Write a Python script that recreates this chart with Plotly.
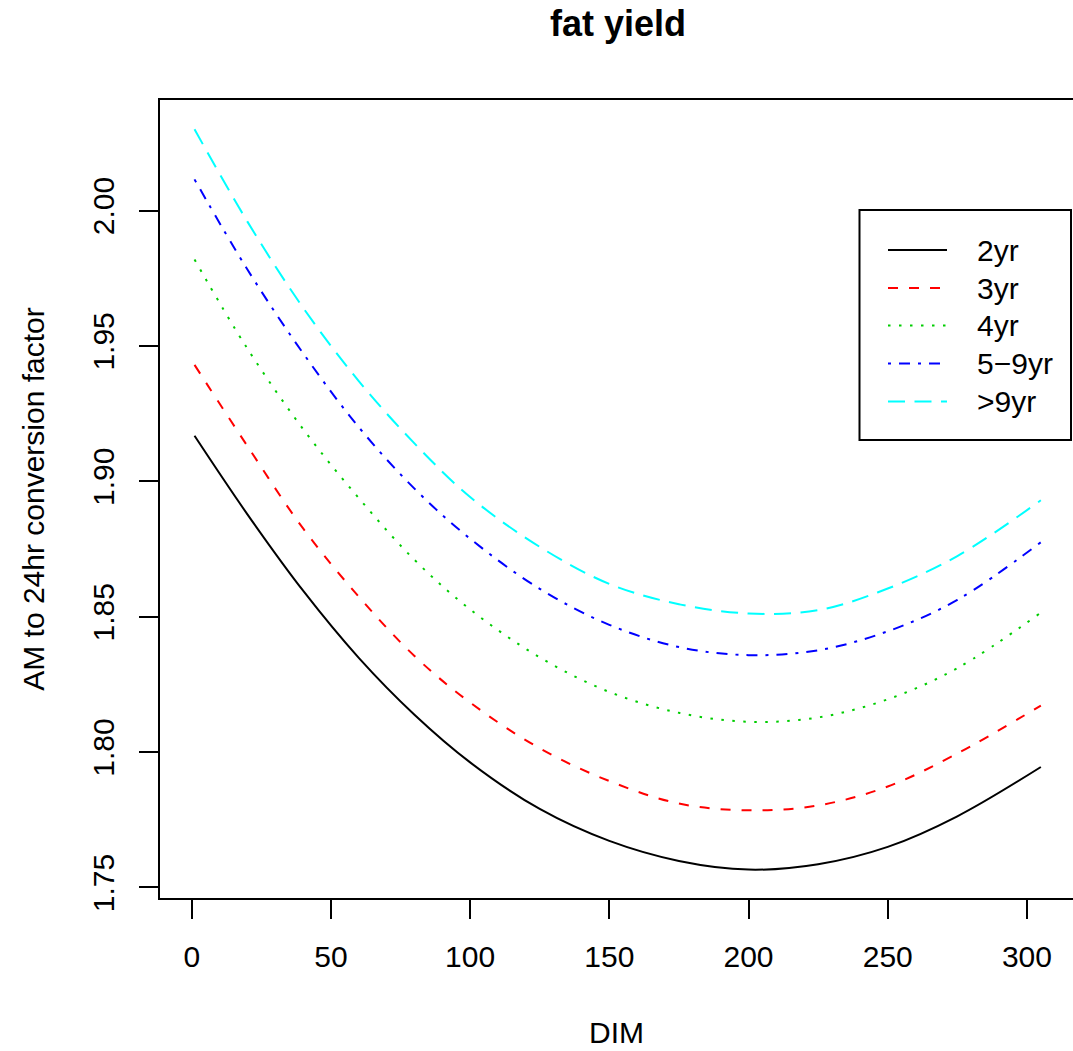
import plotly.graph_objects as go

# Days in milk at which the conversion factors are tabulated
dim = [1, 20, 40, 60, 80, 100, 125, 150, 175, 200, 225, 250, 275, 305]

# AM to 24hr conversion factor for fat yield, by age group
fac_2yr = [1.9168, 1.8878, 1.8596, 1.8348, 1.8138, 1.7962, 1.7790, 1.7672,
           1.7598, 1.7566, 1.7586, 1.7650, 1.7763, 1.7945]
fac_3yr = [1.9430, 1.9130, 1.8826, 1.8574, 1.8355, 1.8183, 1.8014, 1.7893,
           1.7810, 1.7785, 1.7803, 1.7873, 1.7995, 1.8172]
fac_4yr = [1.9819, 1.9490, 1.9193, 1.8938, 1.8710, 1.8527, 1.8350, 1.8222,
           1.8145, 1.8112, 1.8128, 1.8195, 1.8310, 1.8515]
fac_5_9yr = [2.0115, 1.9782, 1.9473, 1.9200, 1.8973, 1.8788, 1.8603, 1.8470,
             1.8388, 1.8358, 1.8376, 1.8446, 1.8562, 1.8775]
fac_9plus = [2.0300, 1.9959, 1.9641, 1.9370, 1.9140, 1.8942, 1.8758, 1.8621,
             1.8546, 1.8512, 1.8524, 1.8604, 1.8724, 1.8930]

labels = ["2yr", "3yr", "4yr", "5\u22129yr", ">9yr"]
series = [fac_2yr, fac_3yr, fac_4yr, fac_5_9yr, fac_9plus]
colors = ["#000000", "#FF0000", "#00CD00", "#0000FF", "#00FFFF"]
dashes = ["solid", "10px,11px", "2.5px,8.5px", "3px,8px,11px,8px", "17px,9.5px"]

x_ticks = [0, 50, 100, 150, 200, 250, 300]
y_ticks = [1.75, 1.80, 1.85, 1.90, 1.95, 2.00]

FONT = "Liberation Sans, Arial, Helvetica, sans-serif"
W, H = 1073, 1051
ML, MR, MT, MB = 160, 0, 100, 153
PW, PH = W - ML - MR, H - MT - MB


def px(xp):
    return (xp - ML) / PW


def py(yp):
    return (MT + PH - yp) / PH


fig = go.Figure()
for name, vals, col, dsh in zip(labels, series, colors, dashes):
    fig.add_trace(go.Scatter(
        x=dim, y=vals, name=name, mode="lines",
        line=dict(color=col, width=2, dash=dsh, shape="spline", smoothing=1.0),
        showlegend=False,
    ))

# Legend box drawn in the upper right of the plotting region
shapes = [dict(type="rect", xref="paper", yref="paper",
               x0=px(859.5), x1=px(1071), y0=py(440), y1=py(210),
               line=dict(color="black", width=2), fillcolor="white", layer="above")]
annotations = []
entry_y = [250, 288, 325.5, 363.5, 401.5]
for name, col, dsh, ey in zip(labels, colors, dashes, entry_y):
    shapes.append(dict(type="line", xref="paper", yref="paper",
                       x0=px(888), x1=px(947), y0=py(ey), y1=py(ey),
                       line=dict(color=col, width=2, dash=dsh), layer="above"))
    annotations.append(dict(xref="paper", yref="paper", x=px(975), y=py(ey),
                            xanchor="left", yanchor="middle", showarrow=False,
                            text=name, font=dict(family=FONT, size=30, color="black")))

fig.update_layout(
    width=W, height=H,
    margin=dict(l=ML, r=MR, t=MT, b=MB, pad=0),
    paper_bgcolor="white", plot_bgcolor="white",
    font=dict(family=FONT, size=30, color="black"),
    title=dict(text="<b>fat yield</b>", x=618 / W, xanchor="center",
               y=1 - 23 / H, yanchor="middle", yref="container",
               font=dict(family=FONT, size=36, color="black")),
    shapes=shapes,
    annotations=annotations,
)

fig.update_xaxes(
    range=[-11.4, 316.55], tickvals=x_ticks, ticktext=[str(v) for v in x_ticks],
    showgrid=False, zeroline=False, showline=True, mirror=True,
    linecolor="black", linewidth=2, ticks="outside", ticklen=19, tickwidth=2,
    tickcolor="black", tickfont=dict(family=FONT, size=30, color="black"),
    ticklabelstandoff=12,
    title=dict(text="DIM", font=dict(family=FONT, size=30, color="black"), standoff=50),
)
fig.update_yaxes(
    range=[1.74612, 2.04081], tickvals=y_ticks, ticktext=[f"{v:.2f}" for v in y_ticks],
    tickangle=-90, showgrid=False, zeroline=False, showline=True, mirror=False,
    linecolor="black", linewidth=2, ticks="outside", ticklen=19, tickwidth=2,
    tickcolor="black", tickfont=dict(family=FONT, size=30, color="black"),
    ticklabelstandoff=13,
    title=dict(text="AM to 24hr conversion factor",
               font=dict(family=FONT, size=30, color="black"), standoff=34),
)

fig.write_html("out.html")
